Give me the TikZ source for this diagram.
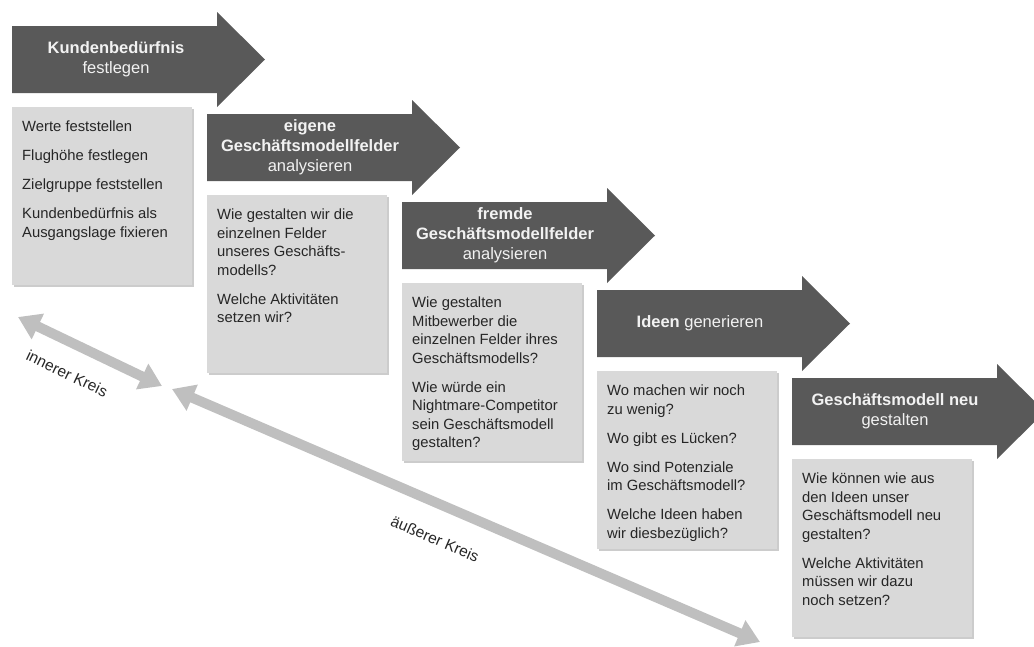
\documentclass[tikz,border=0pt]{standalone}
\usepackage{fontspec}
\setmainfont{Liberation Sans}
\usetikzlibrary{arrows.meta, shadows}

\definecolor{stepgray}{HTML}{595959}
\definecolor{boxgray}{HTML}{D9D9D9}
\definecolor{ringgray}{HTML}{BFBFBF}
\definecolor{textgray}{HTML}{262626}

\tikzset{
  steplabel/.style={align=center, text=white!95!black, font=\fontsize{16.5}{20}\selectfont},
  infobox/.style={fill=boxgray, anchor=north west, inner xsep=10pt, inner ysep=14pt,
    text=textgray, font=\fontsize{14.8}{18.5}\selectfont,
    drop shadow={shadow xshift=2pt, shadow yshift=-2pt, opacity=0.4}},
  ringarrow/.style={draw=ringgray, line width=10pt,
    {Triangle[length=22pt,width=27pt]}-{Triangle[length=22pt,width=27pt]}},
  ringlabel/.style={sloped, inner sep=0pt, text=textgray, font=\fontsize{15.5}{18}\selectfont}
}
\newcommand{\boxtext}[1]{\parbox[t][150pt][t]{160pt}{\raggedright #1}}

\begin{document}
\begin{tikzpicture}[x=1pt, y=-1pt]
\useasboundingbox (0,0) rectangle (1034,646);

% process arrows
\foreach \i in {0,...,4}
  \fill[stepgray] ({12+195*\i},{26+88*\i}) -- ++(205,0) -- ++(0,-14) -- ++(48,47.5)
    -- ++(-48,47.5) -- ++(0,-14) -- ++(-205,0) -- cycle;

\node[steplabel] (step1) at (116,59.5) {\textbf{Kundenbedürfnis}\\festlegen};
\node[steplabel] (step2) at (310,147.5) {\textbf{eigene}\\\textbf{Geschäftsmodellfelder}\\analysieren};
\node[steplabel] (step3) at (505,235.5) {\textbf{fremde}\\\textbf{Geschäftsmodellfelder}\\analysieren};
\node[steplabel] (step4) at (700,323.5) {\textbf{Ideen} generieren};
\node[steplabel] (step5) at (895,411.5) {\textbf{Geschäftsmodell neu}\\gestalten};

% question boxes
\node[infobox] (box1) at (12,107) {\boxtext{Werte feststellen\\[10.5pt]
  Flughöhe festlegen\\[10.5pt] Zielgruppe feststellen\\[10.5pt]
  Kundenbedürfnis als\\ Ausgangslage fixieren}};
\node[infobox] (box2) at (207,195) {\boxtext{Wie gestalten wir die\\ einzelnen Felder\\
  unseres Geschäfts-\\ modells?\\[10.5pt] Welche Aktivitäten\\ setzen wir?}};
\node[infobox] (box3) at (402,283) {\boxtext{Wie gestalten\\ Mitbewerber die\\
  einzelnen Felder ihres\\ Geschäftsmodells?\\[10.5pt] Wie würde ein\\
  Nightmare-Competitor\\ sein Geschäftsmodell\\ gestalten?}};
\node[infobox] (box4) at (597,371) {\boxtext{Wo machen wir noch\\ zu wenig?\\[10.5pt]
  Wo gibt es Lücken?\\[10.5pt] Wo sind Potenziale\\ im Geschäftsmodell?\\[10.5pt]
  Welche Ideen haben\\ wir diesbezüglich?}};
\node[infobox] (box5) at (792,459) {\boxtext{Wie können wie aus\\ den Ideen unser\\
  Geschäftsmodell neu\\ gestalten?\\[10.5pt] Welche Aktivitäten\\
  müssen wir dazu\\ noch setzen?}};

% circles
\coordinate (inner1) at (18,317);
\coordinate (inner2) at (162,386);
\draw[ringarrow] (inner1) -- node[ringlabel, pos=0.43, below=19pt] (innerlbl) {innerer Kreis} (inner2);

\coordinate (outer1) at (172,389);
\coordinate (outer2) at (760,642);
\draw[ringarrow] (outer1) -- node[ringlabel, pos=0.47, below=23pt] (outerlbl) {äußerer Kreis} (outer2);

\end{tikzpicture}
\end{document}
